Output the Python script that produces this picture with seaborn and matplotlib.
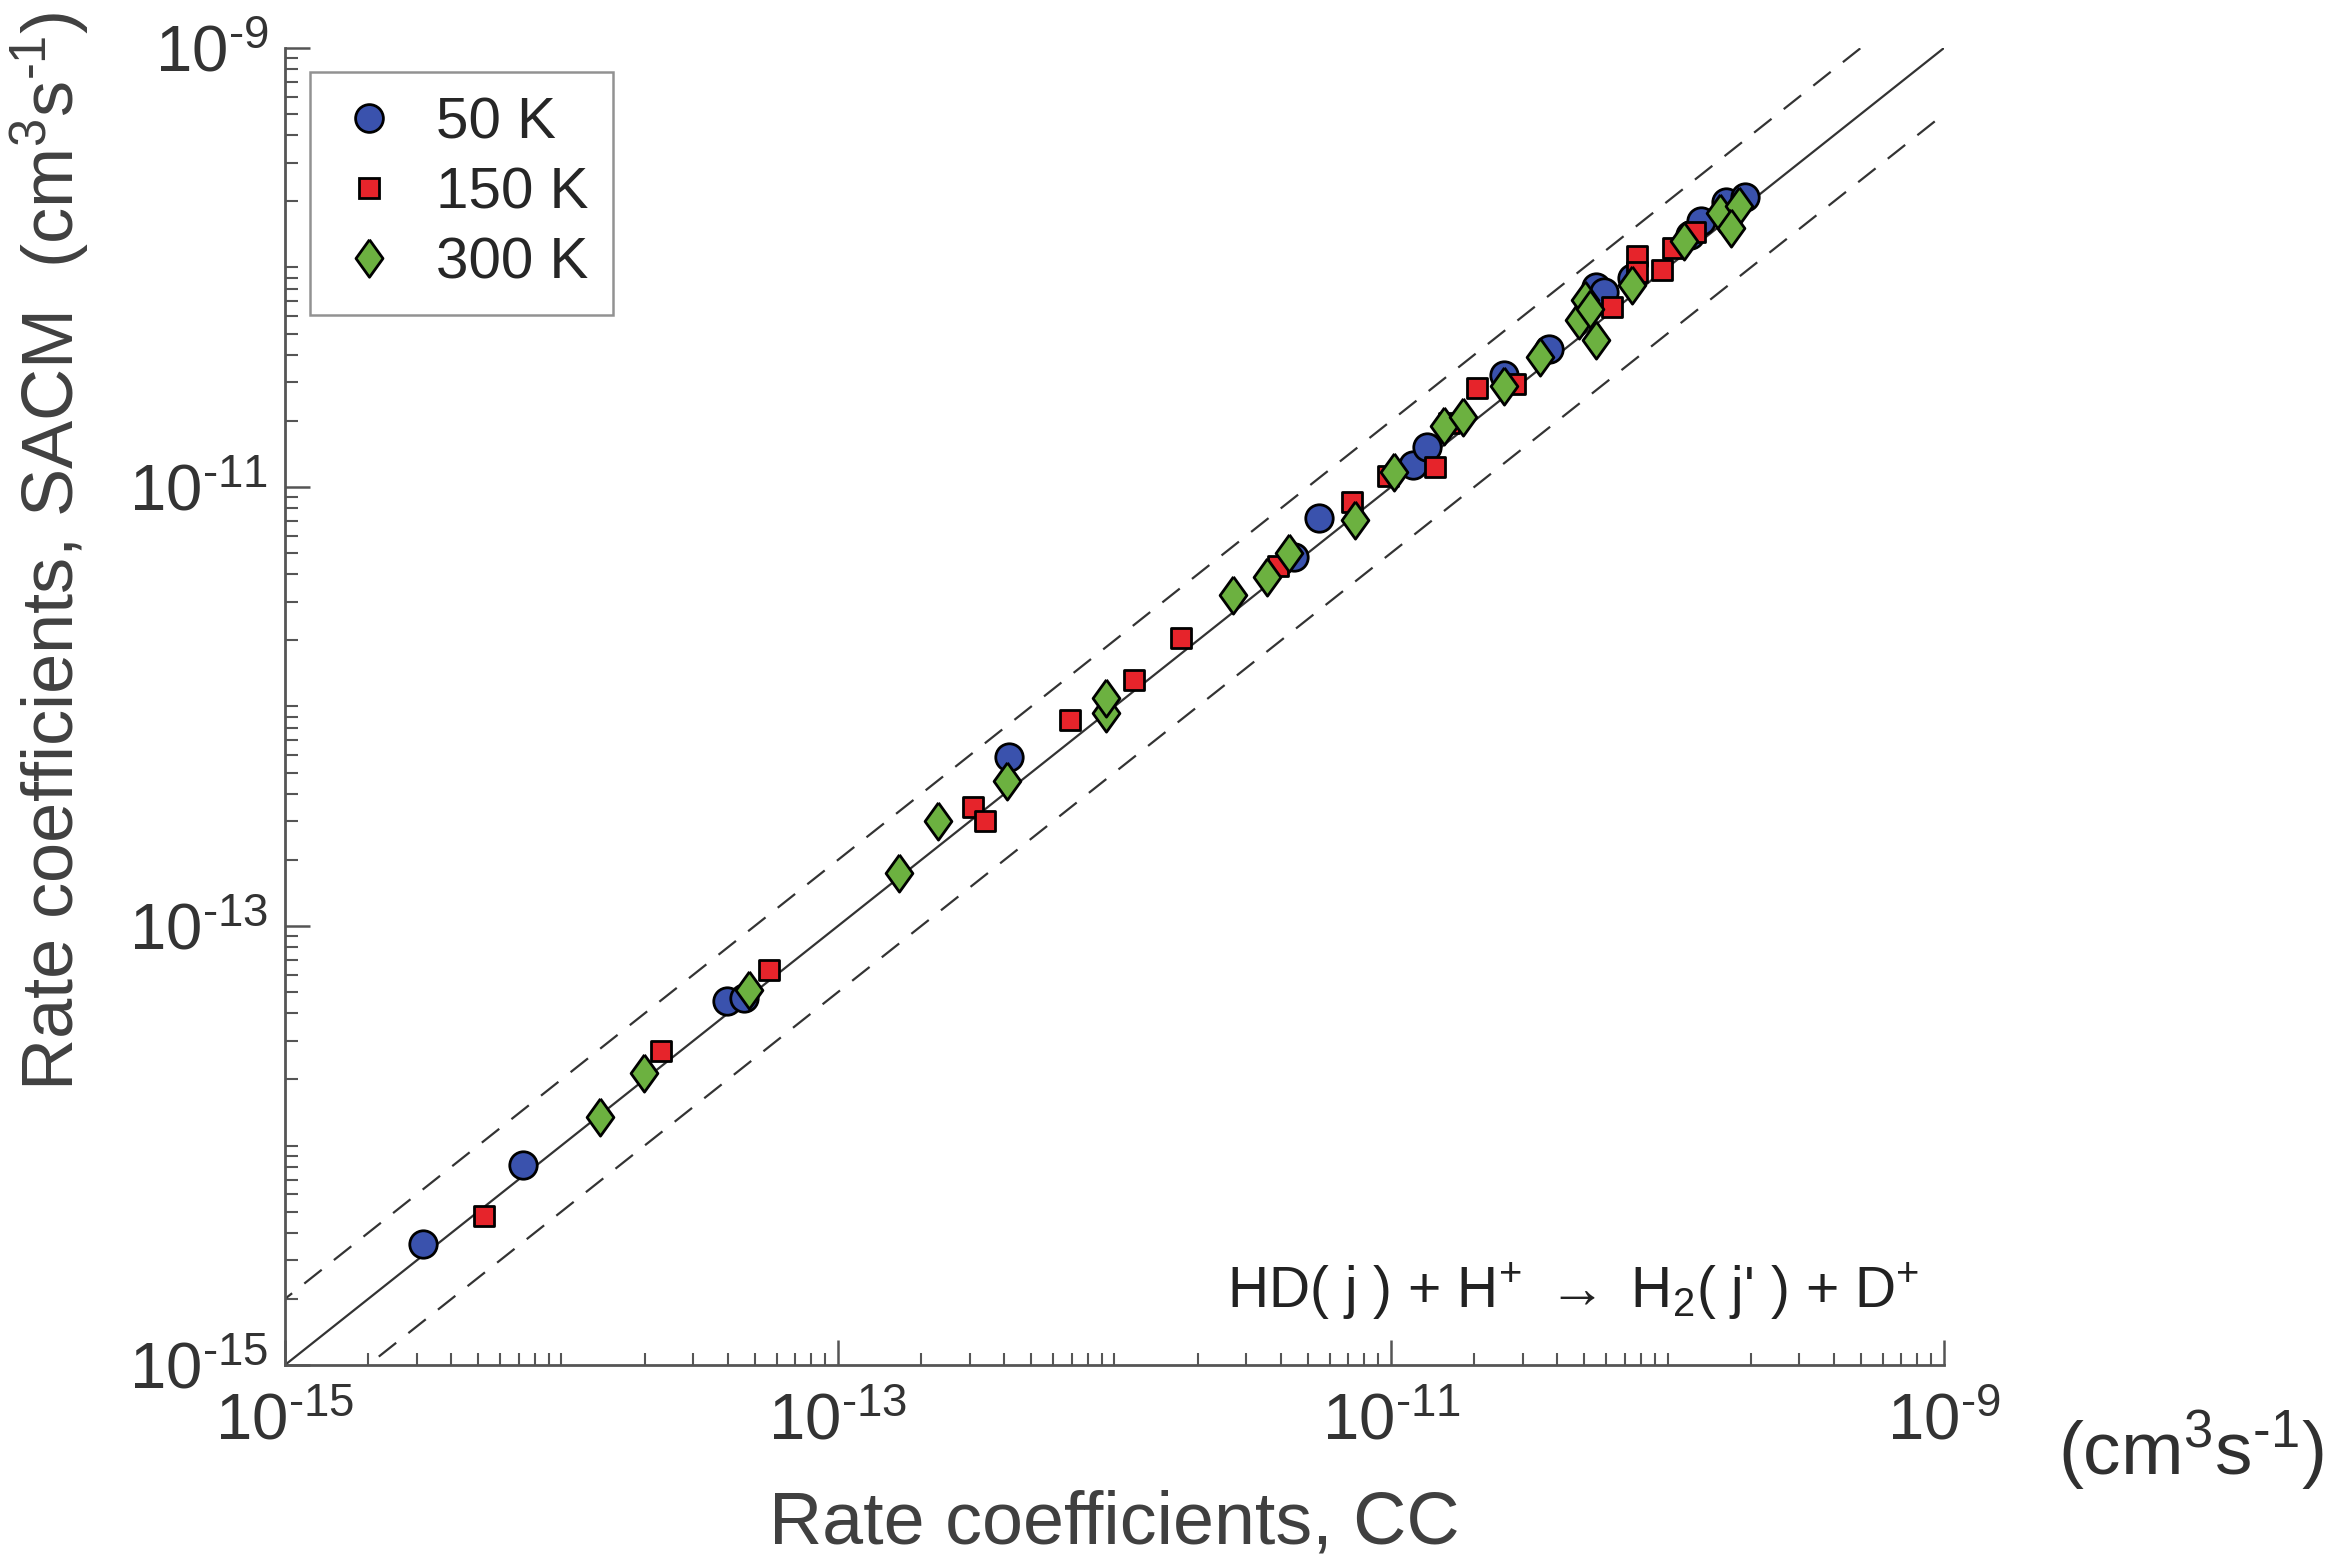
import numpy as np
import pandas as pd
import matplotlib
matplotlib.use("Agg")
import matplotlib.pyplot as plt
import seaborn as sns
from matplotlib.lines import Line2D
from matplotlib.ticker import NullFormatter, FixedLocator

# ---- data (log10 values) ----
cc_50 = [-14.50, -14.14, -13.40, -13.34, -12.38, -11.35, -11.26, -10.92, -10.87,
         -10.59, -10.43, -10.26, -10.23, -10.13, -9.92, -9.88, -9.79, -9.72]
sacm_50 = [-14.45, -14.09, -13.34, -13.33, -12.23, -11.32, -11.14, -10.90, -10.82,
           -10.49, -10.37, -10.09, -10.11, -10.05, -9.85, -9.79, -9.70, -9.68]

cc_150 = [-14.28, -13.64, -13.25, -12.51, -12.47, -12.16, -11.93, -11.76, -11.41,
          -11.14, -11.01, -10.84, -10.79, -10.69, -10.55, -10.20, -10.11, -10.11,
          -10.02, -9.98, -9.90]
sacm_150 = [-14.32, -13.57, -13.20, -12.46, -12.52, -12.06, -11.88, -11.69, -11.36,
            -11.07, -10.95, -10.91, -10.71, -10.55, -10.53, -10.18, -9.95, -10.02,
            -10.01, -9.91, -9.84]

cc_300 = [-13.86, -13.70, -13.32, -12.78, -12.64, -12.39, -12.03, -12.03, -11.57,
          -11.45, -11.37, -11.13, -10.99, -10.81, -10.74, -10.59, -10.46, -10.32,
          -10.30, -10.26, -10.28, -10.13, -9.94, -9.81, -9.74, -9.77]
sacm_300 = [-13.87, -13.67, -13.29, -12.76, -12.52, -12.34, -12.03, -11.96, -11.49,
            -11.41, -11.30, -11.15, -10.93, -10.72, -10.68, -10.54, -10.41, -10.24,
            -10.15, -10.33, -10.19, -10.08, -9.88, -9.75, -9.72, -9.82]

temps = ["50 K", "150 K", "300 K"]
tick_labels = [r"$10^{\text{-}15}$", r"$10^{\text{-}13}$", r"$10^{\text{-}11}$", r"$10^{\text{-}9}$"]

diamond = [(0, 1), (0.72, 0), (0, -1), (-0.72, 0), (0, 1)]
colors = {"50 K": "#3a52ad", "150 K": "#e6242b", "300 K": "#6cb140"}
markers = {"50 K": "o", "150 K": "s", "300 K": diamond}
sizes = {"50 K": 390, "150 K": 225, "300 K": 720}

frames = []
for t, xs, ys in [("50 K", cc_50, sacm_50), ("150 K", cc_150, sacm_150), ("300 K", cc_300, sacm_300)]:
    frames.append(pd.DataFrame({"CC": 10.0 ** np.array(xs), "SACM": 10.0 ** np.array(ys), "T": t}))
df = pd.concat(frames, ignore_index=True)

sns.set_theme(style="white")
plt.rcParams["font.family"] = ["Liberation Sans", "DejaVu Sans"]
plt.rcParams["mathtext.fontset"] = "custom"
plt.rcParams["mathtext.rm"] = "Liberation Sans"
plt.rcParams["mathtext.it"] = "Liberation Sans"
plt.rcParams["mathtext.default"] = "regular"

fig = plt.figure(figsize=(23.51, 15.67), dpi=100)
ax = fig.add_axes([0.1212, 0.1289, 0.7057, 0.8405])

lo, hi = 1e-15, 1e-9
ax.set_xscale("log")
ax.set_yscale("log")
ax.set_xlim(lo, hi)
ax.set_ylim(lo, hi)

# reference lines y = x, y = 2x, y = x/2
ref = np.array([lo / 10, hi * 10])
ax.plot(ref, ref, color="#333333", lw=1.6, zorder=1)
ax.plot(ref, 2 * ref, color="#333333", lw=1.6, ls=(0, (10, 7)), zorder=1)
ax.plot(ref, ref / 2, color="#333333", lw=1.6, ls=(0, (10, 7)), zorder=1)

for t in temps:
    sub = df[df["T"] == t]
    sns.scatterplot(data=sub, x="CC", y="SACM", ax=ax, color=colors[t], marker=markers[t],
                    s=sizes[t], edgecolor="black", linewidth=2.0, zorder=3, legend=False)

# spines and ticks
for side in ["top", "right"]:
    ax.spines[side].set_visible(False)
for side in ["left", "bottom"]:
    ax.spines[side].set_color("#555555")
    ax.spines[side].set_linewidth(2.0)

major = [1e-15, 1e-13, 1e-11, 1e-9]
ax.xaxis.set_major_locator(FixedLocator(major))
ax.yaxis.set_major_locator(FixedLocator(major))
minor = [m * 10.0 ** e for e in range(-15, -9) for m in range(1, 10)]
minor = [v for v in minor if lo < v < hi and all(abs(v / mj - 1) > 1e-6 for mj in major)]
ax.xaxis.set_minor_locator(FixedLocator(minor))
ax.yaxis.set_minor_locator(FixedLocator(minor))
ax.xaxis.set_minor_formatter(NullFormatter())
ax.yaxis.set_minor_formatter(NullFormatter())
ax.set_xticklabels(tick_labels)
ax.set_yticklabels(tick_labels)
ax.tick_params(which="major", direction="in", length=18, width=1.8, color="#555555",
               labelsize=47, labelcolor="#333333", pad=12, left=True, bottom=True)
ax.tick_params(axis="x", which="major", pad=20)
ax.tick_params(which="minor", direction="in", length=9, width=1.5, color="#555555",
               left=True, bottom=True)

ax.set_xlabel("Rate coefficients, CC", fontsize=53, color="#404040", labelpad=26)
ax.set_ylabel("")
fig.text(0.021, 0.648, r"Rate coefficients, SACM  (cm$^{3}$s$^{\text{-}1}$)", rotation=90,
         fontsize=52, color="#404040", ha="center", va="center")
fig.text(0.932, 0.074, r"(cm$^{3}$s$^{\text{-}1}$)", fontsize=54, color="#303030",
         ha="center", va="center")

ax.text(0.985, 0.033, r"HD( j ) + H$^{+}$ $\rightarrow$ H$_{2}$( j' ) + D$^{+}$",
        transform=ax.transAxes, fontsize=41, color="#222222", ha="right", va="bottom")

leg_ms = {"50 K": 20, "150 K": 15, "300 K": 27}
handles = [Line2D([], [], ls="none", marker=markers[t], markersize=leg_ms[t],
                  markerfacecolor=colors[t], markeredgecolor="black", markeredgewidth=2.0)
           for t in temps]
leg = ax.legend(handles, temps, loc="upper left", bbox_to_anchor=(0.015, 0.982), fontsize=42,
                frameon=True, fancybox=False, edgecolor="#777777", handletextpad=0.55,
                borderpad=0.42, labelspacing=0.28, handlelength=1.2, borderaxespad=0)
leg.get_frame().set_linewidth(1.8)

fig.savefig("out.png", dpi=100, facecolor="white")
